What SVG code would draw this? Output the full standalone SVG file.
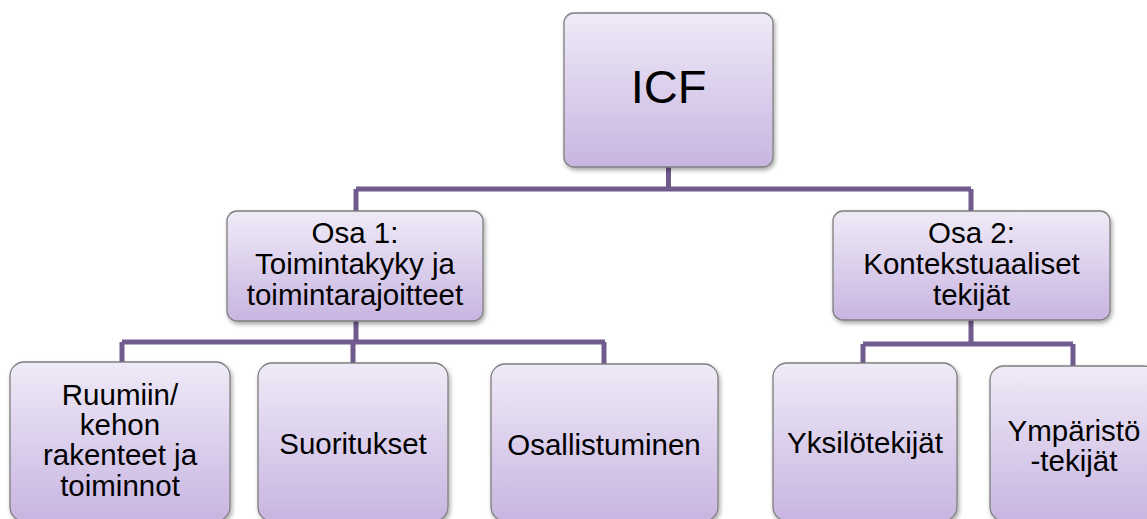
<svg xmlns="http://www.w3.org/2000/svg" width="1147" height="519" viewBox="0 0 1147 519">
<defs>
<linearGradient id="g" x1="0" y1="0" x2="0" y2="1">
<stop offset="0" stop-color="#efeaf7"/>
<stop offset="1" stop-color="#c8b5e1"/>
</linearGradient>
<filter id="sh" x="-10%" y="-10%" width="125%" height="130%">
<feDropShadow dx="1.5" dy="2.5" stdDeviation="2" flood-color="#000" flood-opacity="0.35"/>
</filter>
</defs>
<style>
.box{fill:url(#g);stroke:#7f7f7f;stroke-width:1.3;filter:url(#sh)}
.t{font-family:"Liberation Sans",Arial,sans-serif;font-size:29.5px;fill:#000;text-anchor:middle}
.big{font-size:47px}
.c{fill:none;stroke:#705a8e;stroke-width:5;stroke-linejoin:miter}
</style>
<rect width="1147" height="519" fill="#fff"/>
<g id="connectors">
<path class="c" d="M668.5 167 V189 M356 189 H971 M356 189 V211 M971 189 V211"/>
<path class="c" d="M356 321 V342 M122 342 H605 M122 342 V362 M353 342 V363 M604 342 V364"/>
<path class="c" d="M971 320 V344 M863 344 H1073 M863 344 V363 M1073 344 V366"/>
</g>
<g id="icf">
<rect class="box" x="564" y="13" width="209" height="154" rx="10"/>
<text class="t big" x="668.5" y="103">ICF</text>
</g>
<g id="osa1">
<rect class="box" x="227" y="211" width="256" height="110" rx="10"/>
<text class="t" x="355" y="243">Osa 1:</text>
<text class="t" x="355" y="274">Toimintakyky ja</text>
<text class="t" x="355" y="305">toimintarajoitteet</text>
</g>
<g id="osa2">
<rect class="box" x="833" y="211" width="277" height="109" rx="10"/>
<text class="t" x="971.5" y="243">Osa 2:</text>
<text class="t" x="971.5" y="274">Kontekstuaaliset</text>
<text class="t" x="971.5" y="305">tekijät</text>
</g>
<g id="ruumiin">
<rect class="box" x="10" y="362" width="220" height="159" rx="14"/>
<text class="t" x="120" y="405">Ruumiin/</text>
<text class="t" x="120" y="435">kehon</text>
<text class="t" x="120" y="465">rakenteet ja</text>
<text class="t" x="120" y="496">toiminnot</text>
</g>
<g id="suoritukset">
<rect class="box" x="258" y="363" width="190" height="158" rx="14"/>
<text class="t" x="353" y="454">Suoritukset</text>
</g>
<g id="osallistuminen">
<rect class="box" x="491" y="364" width="227" height="157" rx="14"/>
<text class="t" x="604" y="455">Osallistuminen</text>
</g>
<g id="yksilo">
<rect class="box" x="773" y="363" width="184" height="158" rx="14"/>
<text class="t" x="865" y="453">Yksilötekijät</text>
</g>
<g id="ymparisto">
<rect class="box" x="990" y="366" width="168" height="155" rx="14"/>
<text class="t" x="1074" y="441">Ympäristö</text>
<text class="t" x="1074" y="471">-tekijät</text>
</g>
</svg>
